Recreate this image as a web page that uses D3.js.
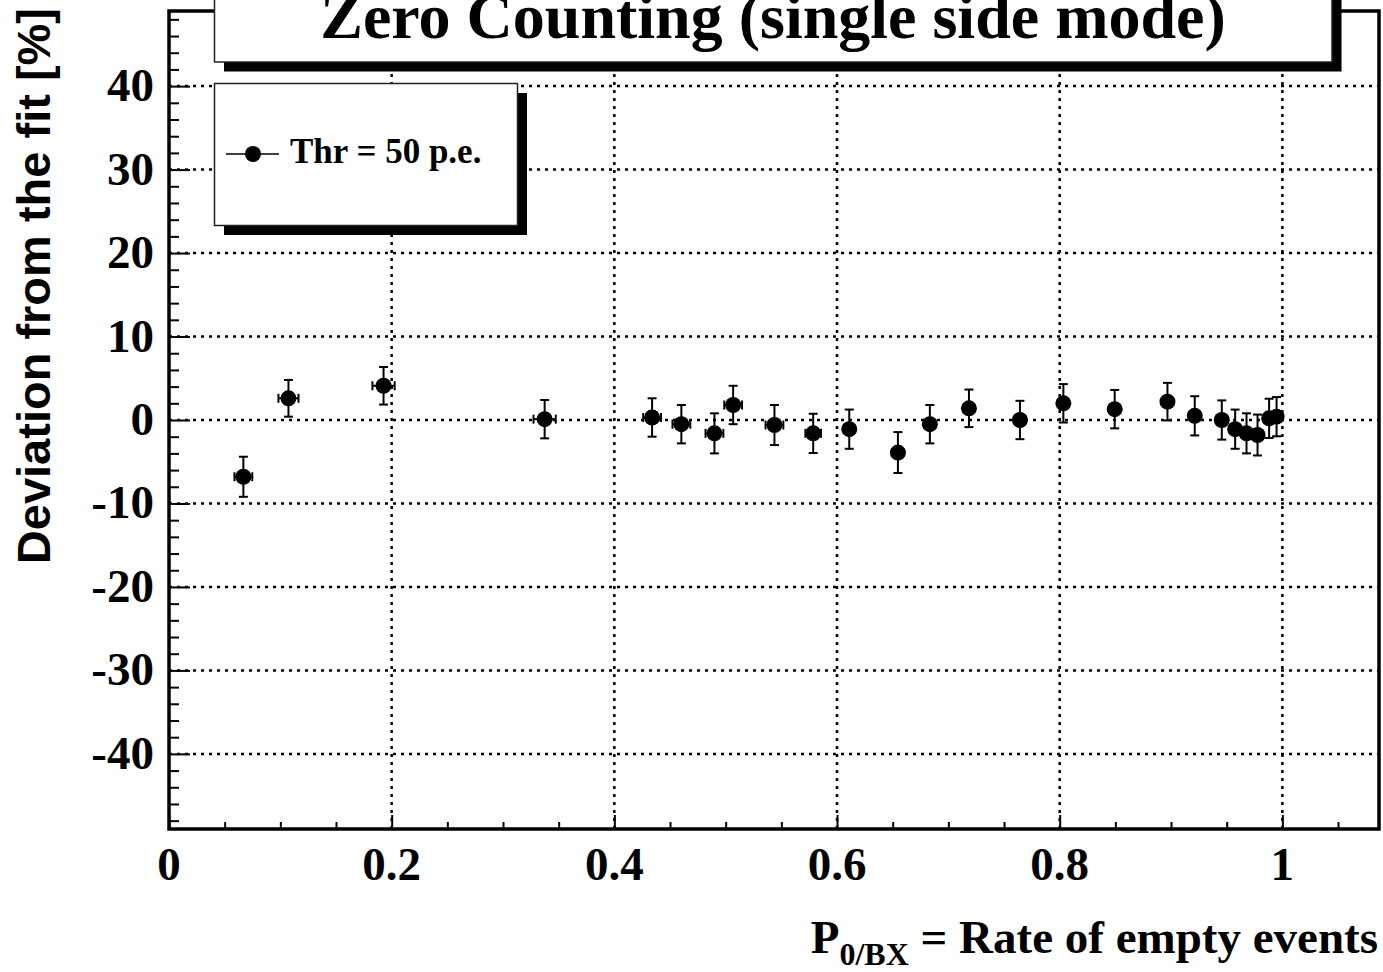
<!DOCTYPE html>
<html>
<head>
<meta charset="utf-8">
<script src="https://cdn.jsdelivr.net/npm/d3@7"></script>
<style>
  html, body { margin: 0; padding: 0; background: #fff; }
  svg { display: block; }
</style>
</head>
<body>
<svg id="chart" width="1383" height="972"></svg>
<script>
// Values
var rate      = [0.0668, 0.1073, 0.1927, 0.3374, 0.4339, 0.4602, 0.4899, 0.5067, 0.5438, 0.5786,
                 0.6110, 0.6547, 0.6834, 0.7185, 0.7643, 0.8033, 0.8494, 0.8968, 0.9213, 0.9456,
                 0.9576, 0.9678, 0.9777, 0.9881, 0.9948];
var deviation = [-6.8, 2.6, 4.1, 0.1, 0.3, -0.5, -1.6, 1.8, -0.6, -1.6,
                 -1.1, -3.9, -0.5, 1.4, 0.0, 2.0, 1.3, 2.2, 0.5, 0.0,
                 -1.1, -1.6, -1.8, 0.2, 0.4];
var dev_err   = [2.4, 2.2, 2.25, 2.3, 2.3, 2.3, 2.4, 2.3, 2.4, 2.35,
                 2.35, 2.45, 2.3, 2.25, 2.3, 2.3, 2.3, 2.25, 2.35, 2.35,
                 2.35, 2.4, 2.45, 2.35, 2.35];
var rate_err  = [0.008, 0.009, 0.010, 0.010, 0.008, 0.008, 0.008, 0.008, 0.008, 0.007,
                 0.005, 0.005, 0.005, 0.005, 0.005, 0.005, 0.005, 0.005, 0.005, 0.005,
                 0.005, 0.005, 0.005, 0.005, 0.005];

var x_major = [0, 0.2, 0.4, 0.6, 0.8, 1];
var x_minor = d3.range(0.05, 1.09, 0.05).filter(function (v) { return Math.abs(v * 5 - Math.round(v * 5)) > 1e-6; });
var y_major = [-40, -30, -20, -10, 0, 10, 20, 30, 40];
var y_minor = d3.range(-48, 49, 2).filter(function (v) { return v % 10 !== 0; });

var title_text  = "Zero Counting (single side mode)";
var legend_text = "Thr = 50 p.e.";

var svg = d3.select("#chart");

// "top" is taken by window.top, so keep the frame edges in one place
var frame = { l: 169, r: 1379, t: 11, b: 829 };

var x = d3.scaleLinear().domain([0, 1.0868]).range([frame.l, frame.r]);
var y = d3.scaleLinear().domain([-49, 49]).range([frame.b, frame.t]);

var serif = "'Liberation Serif', 'Times New Roman', serif";
var sans  = "'Liberation Sans', Arial, sans-serif";

// Dotted grid at the major ticks
var grid = svg.append("g").attr("stroke", "#000").attr("stroke-width", 2.5).attr("stroke-dasharray", "3,5");
x_major.filter(function (v) { return v > 0; }).forEach(function (v) {
  grid.append("line").attr("x1", x(v)).attr("x2", x(v)).attr("y1", frame.b).attr("y2", frame.t);
});
y_major.forEach(function (v) {
  grid.append("line").attr("x1", frame.l).attr("x2", frame.r).attr("y1", y(v)).attr("y2", y(v));
});

// Axes: ticks only, the labels are drawn by hand below
var xaxis_major = d3.axisBottom(x).tickValues(x_major).tickSize(-14).tickFormat("");
var xaxis_minor = d3.axisBottom(x).tickValues(x_minor).tickSize(-7).tickFormat("");
var yaxis_major = d3.axisLeft(y).tickValues(y_major).tickSize(-21).tickFormat("");
var yaxis_minor = d3.axisLeft(y).tickValues(y_minor).tickSize(-10).tickFormat("");

[[xaxis_major, "translate(0," + frame.b + ")"], [xaxis_minor, "translate(0," + frame.b + ")"],
 [yaxis_major, "translate(" + frame.l + ",0)"], [yaxis_minor, "translate(" + frame.l + ",0)"]].forEach(function (a) {
  var g = svg.append("g").attr("transform", a[1]).call(a[0]);
  g.select(".domain").remove();
  g.selectAll(".tick line").attr("stroke", "#000").attr("stroke-width", 2);
});

// Frame
svg.append("rect")
   .attr("x", frame.l).attr("y", frame.t)
   .attr("width", frame.r - frame.l).attr("height", frame.b - frame.t)
   .attr("fill", "none").attr("stroke", "#000").attr("stroke-width", 3.5);

// Tick labels
svg.append("g").selectAll("text").data(x_major).enter().append("text")
   .attr("x", function (d) { return x(d); })
   .attr("y", 880)
   .attr("text-anchor", "middle")
   .style("font-family", serif).style("font-weight", "bold").style("font-size", "47px")
   .text(function (d) { return d3.format("")(d); });

svg.append("g").selectAll("text").data(y_major).enter().append("text")
   .attr("x", 154)
   .attr("y", function (d) { return y(d) + 15; })
   .attr("text-anchor", "end")
   .style("font-family", serif).style("font-weight", "bold").style("font-size", "47px")
   .text(function (d) { return d; });

// Axis titles
var xt = svg.append("text")
   .attr("x", 1378).attr("y", 953)
   .attr("text-anchor", "end")
   .style("font-family", serif).style("font-weight", "bold").style("font-size", "47px");
xt.append("tspan").text("P");
xt.append("tspan").attr("dy", 12).style("font-size", "32px").text("0/BX");
xt.append("tspan").attr("dy", -12).text(" = Rate of empty events");

svg.append("text")
   .attr("transform", "translate(50,8) rotate(-90)")
   .attr("text-anchor", "end")
   .style("font-family", sans).style("font-weight", "bold").style("font-size", "47px")
   .text("Deviation from the fit [%]");

// Points with error bars
var pts = svg.append("g");
var cap = 4.5;
rate.forEach(function (r, i) {
  var cx = x(r), cy = y(deviation[i]);
  var y_hi = y(deviation[i] + dev_err[i]), y_lo = y(deviation[i] - dev_err[i]);
  var x_lo = x(r - rate_err[i]), x_hi = x(r + rate_err[i]);
  var g = pts.append("g").attr("stroke", "#000").attr("stroke-width", 2);

  g.append("line").attr("x1", cx).attr("x2", cx).attr("y1", y_hi).attr("y2", y_lo);
  g.append("line").attr("x1", cx - cap).attr("x2", cx + cap).attr("y1", y_hi).attr("y2", y_hi);
  g.append("line").attr("x1", cx - cap).attr("x2", cx + cap).attr("y1", y_lo).attr("y2", y_lo);

  g.append("line").attr("x1", x_lo).attr("x2", x_hi).attr("y1", cy).attr("y2", cy);
  g.append("line").attr("x1", x_lo).attr("x2", x_lo).attr("y1", cy - cap).attr("y2", cy + cap);
  g.append("line").attr("x1", x_hi).attr("x2", x_hi).attr("y1", cy - cap).attr("y2", cy + cap);

  pts.append("circle").attr("cx", cx).attr("cy", cy).attr("r", 8).attr("fill", "#000");
});

// Boxes with a drop shadow, ROOT style
function shadow_box(x0, y0, w, h, d) {
  svg.append("rect").attr("x", x0 + d).attr("y", y0 + d).attr("width", w).attr("height", h).attr("fill", "#000");
  svg.append("rect").attr("x", x0).attr("y", y0).attr("width", w).attr("height", h)
     .attr("fill", "#fff").attr("stroke", "#222").attr("stroke-width", 1.5);
}

// Title
shadow_box(214.5, -30, 1117.5, 92, 9.5);
svg.append("text")
   .attr("x", 773).attr("y", 38)
   .attr("text-anchor", "middle")
   .style("font-family", serif).style("font-weight", "bold").style("font-size", "64px")
   .text(title_text);

// Legend
shadow_box(214.5, 83.5, 303, 142, 9.5);
svg.append("line").attr("x1", 226).attr("x2", 279).attr("y1", 154).attr("y2", 154)
   .attr("stroke", "#000").attr("stroke-width", 1.5);
svg.append("circle").attr("cx", 253).attr("cy", 154).attr("r", 8).attr("fill", "#000");
svg.append("text")
   .attr("x", 290).attr("y", 163)
   .style("font-family", serif).style("font-weight", "bold").style("font-size", "35px")
   .text(legend_text);
</script>
</body>
</html>
